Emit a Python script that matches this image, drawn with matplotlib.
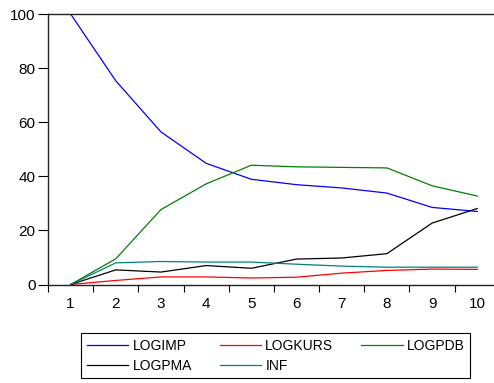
import matplotlib
matplotlib.use('Agg')
import matplotlib.pyplot as plt

plt.rcParams['font.family'] = ['Liberation Sans', 'DejaVu Sans']

# Data
periods = [1, 2, 3, 4, 5, 6, 7, 8, 9, 10]
logimp = [100.0, 75.3, 56.4, 44.8, 38.9, 36.9, 35.7, 33.8, 28.5, 27.0]
logkurs = [0.0, 1.5, 2.8, 2.8, 2.4, 2.7, 4.2, 5.2, 5.7, 5.6]
logpdb = [0.0, 9.5, 27.7, 37.2, 44.1, 43.5, 43.3, 43.1, 36.5, 32.7]
logpma = [0.0, 5.4, 4.6, 7.0, 6.0, 9.4, 9.8, 11.4, 22.7, 28.1]
inf = [0.0, 8.0, 8.5, 8.3, 8.3, 7.5, 6.8, 6.4, 6.4, 6.4]

W, H = 494, 383
fig = plt.figure(figsize=(W / 100, H / 100), dpi=100)
ax = fig.add_axes([48 / W, 1 - 284.5 / H, 446 / W, (284.5 - 14) / H])

lw = 0.9
l1, = ax.plot(periods, logimp, color='#0000ff', lw=lw, label='LOGIMP')
l2, = ax.plot(periods, logkurs, color='#ff0000', lw=lw, label='LOGKURS')
l3, = ax.plot(periods, logpdb, color='#008000', lw=lw, label='LOGPDB')
l4, = ax.plot(periods, logpma, color='#000000', lw=lw, label='LOGPMA')
l5, = ax.plot(periods, inf, color='#008080', lw=lw, label='INF')

ax.set_xlim(0.5, 10.37)
ax.set_ylim(0, 100)
ax.set_yticks([0, 20, 40, 60, 80, 100])
ax.set_xticks(periods)
ax.set_xticks([p - 0.5 for p in periods], minor=True)
ax.tick_params(axis='x', which='major', length=0, labelsize=11, pad=9)
ax.tick_params(axis='x', which='minor', length=5, width=0.8, direction='out')
ax.tick_params(axis='y', length=7, width=0.8, direction='out', labelsize=11, pad=2)

for s in ['left', 'bottom', 'top']:
    ax.spines[s].set_linewidth(1.0)
    ax.spines[s].set_color('#222222')
ax.spines['right'].set_visible(False)

# column-major fill so rows read LOGIMP LOGKURS LOGPDB / LOGPMA INF
leg = fig.legend(handles=[l1, l4, l2, l5, l3], ncol=3,
                 loc='upper left',
                 bbox_to_anchor=(81 / W, 1 - 333 / H),
                 borderaxespad=0, fontsize=10,
                 handlelength=3.0, handletextpad=0.3, columnspacing=2.0,
                 labelspacing=0.44, borderpad=0.4, fancybox=False,
                 edgecolor='black', framealpha=1)
leg.get_frame().set_linewidth(0.8)

fig.savefig('out.png', dpi=100)
